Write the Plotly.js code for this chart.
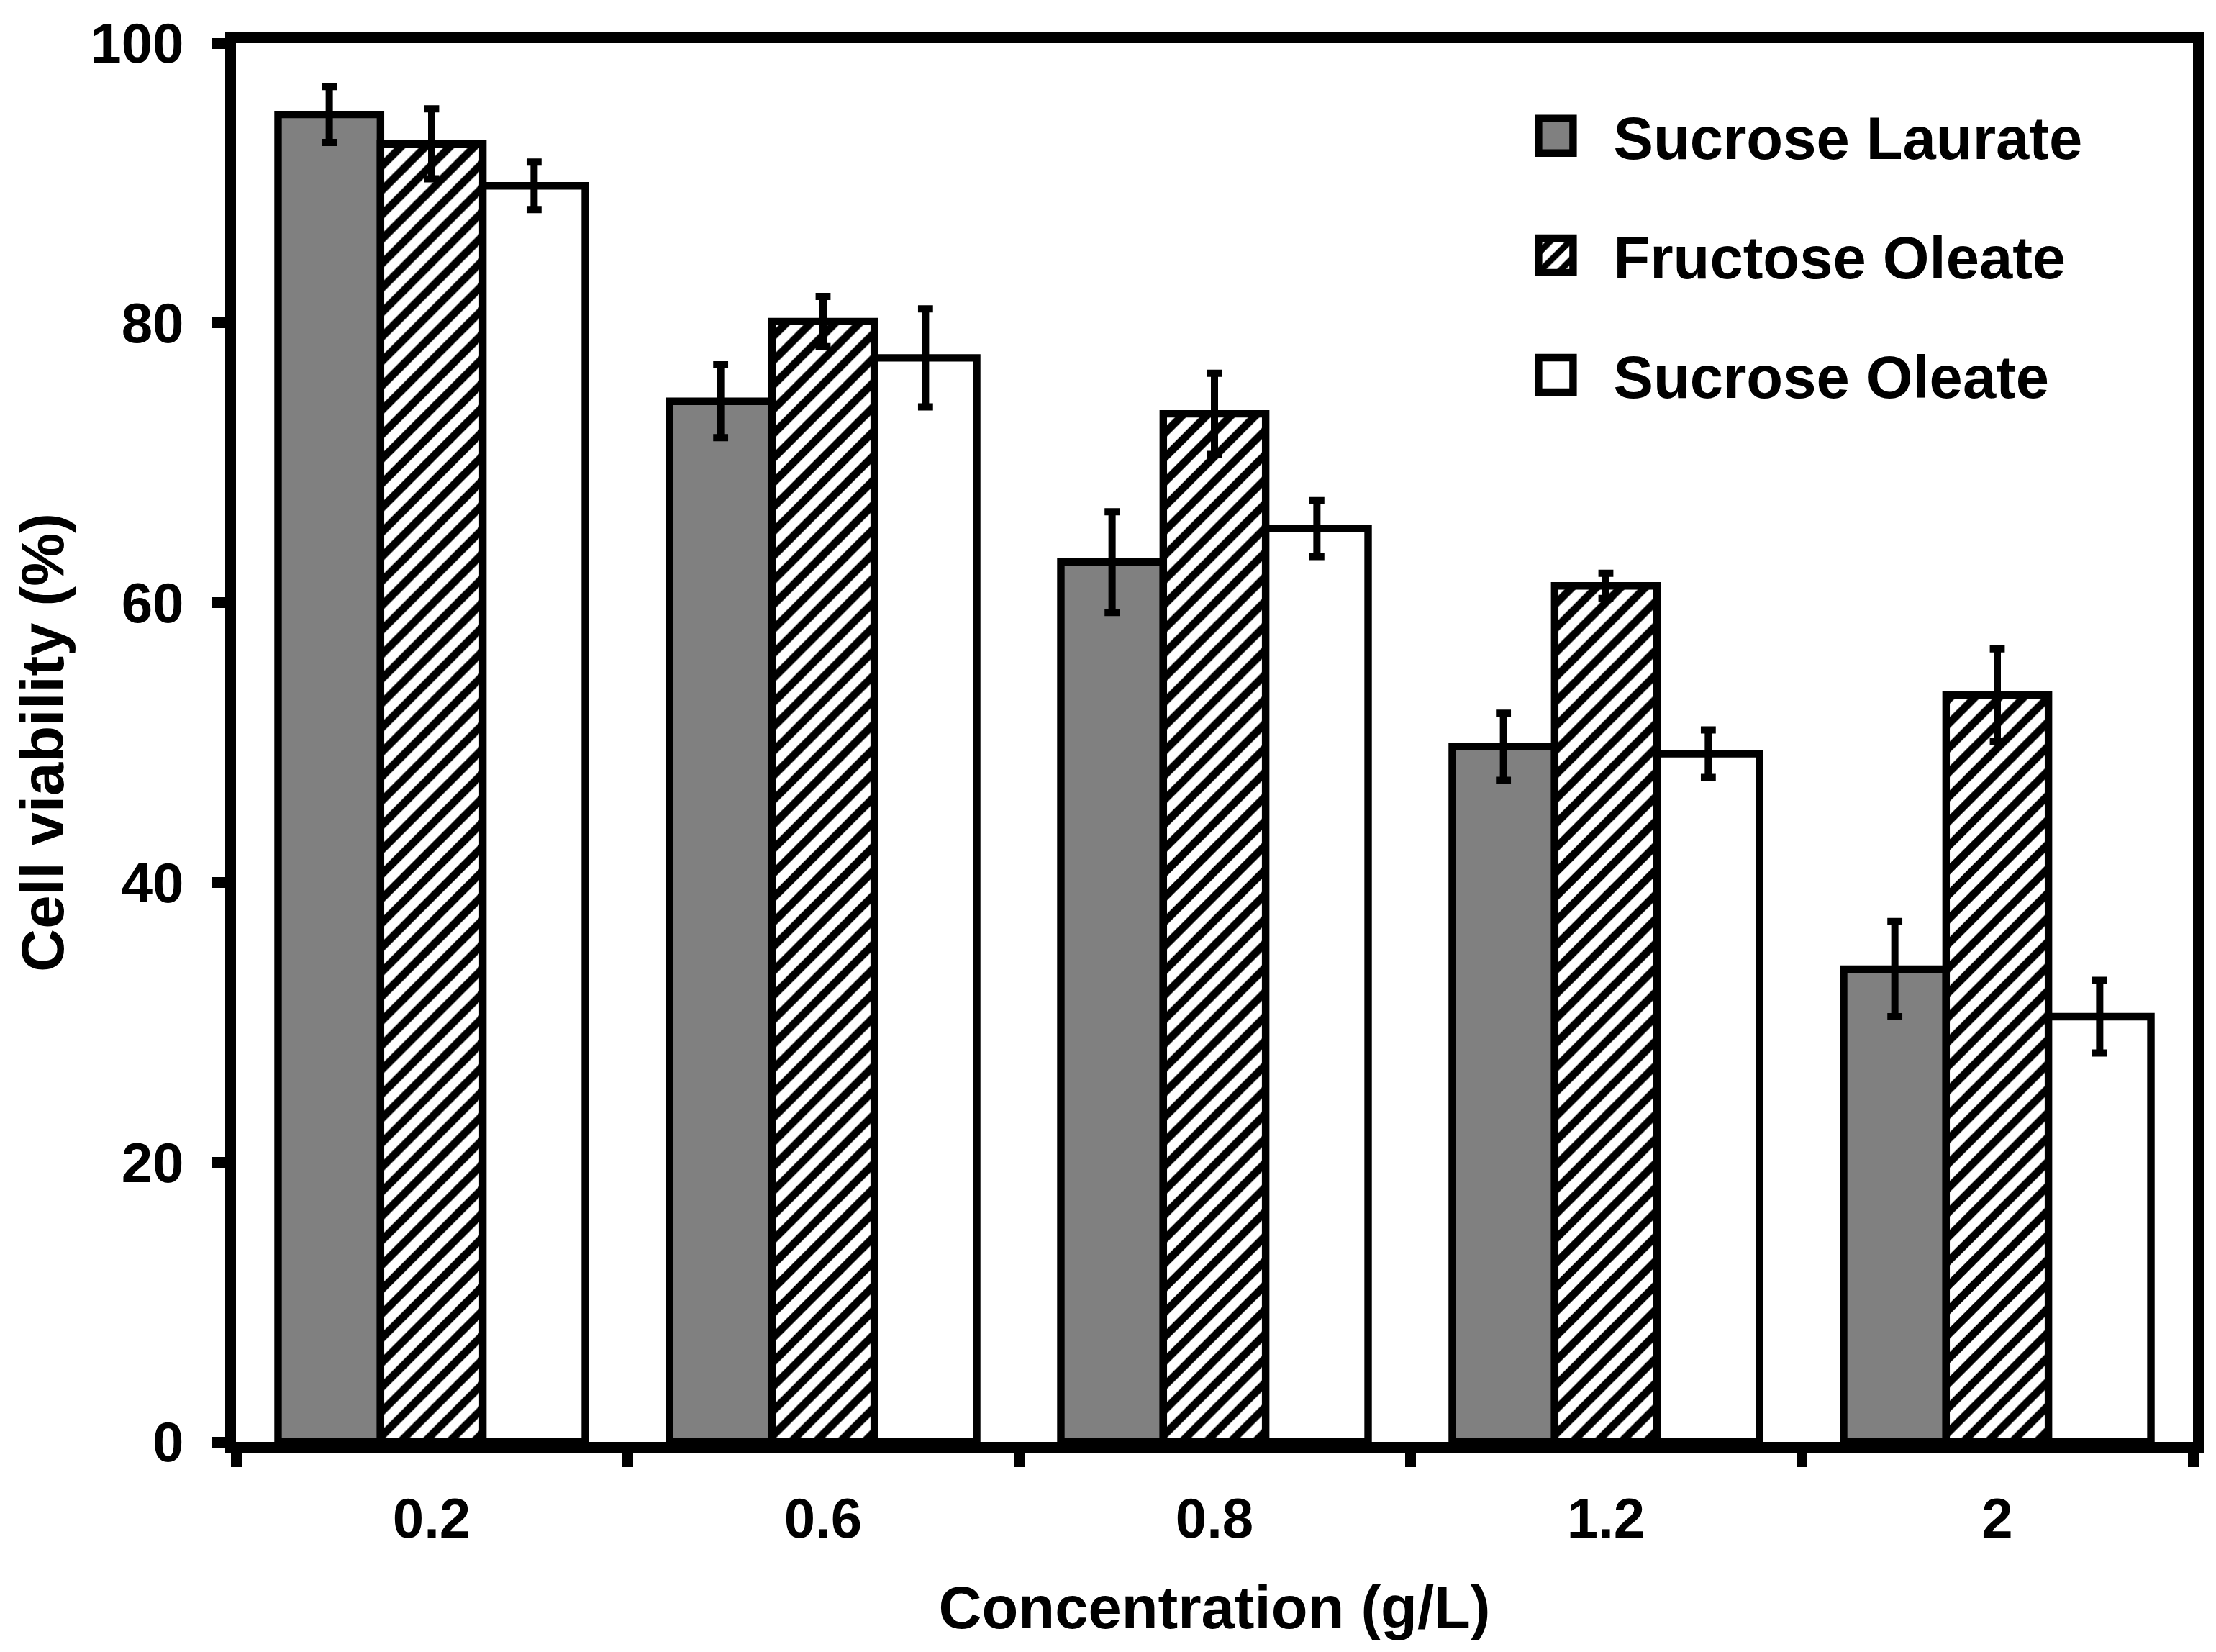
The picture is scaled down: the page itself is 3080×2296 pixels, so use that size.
<!DOCTYPE html>
<html>
<head>
<meta charset="utf-8">
<script src="https://cdn.plot.ly/plotly-3.0.1.min.js"></script>
<style>
  html, body { margin: 0; padding: 0; background: #fff; }
  #frame { width: 3080px; height: 2296px; overflow: hidden; position: relative; }
  #myPlot { width: 770px; height: 574px; transform: scale(4); transform-origin: 0 0; position: absolute; left: 0; top: 0; }
</style>
</head>
<body>
<div id="frame"><div id="myPlot"></div></div>
<script>
// concentrations (g/L) on the x axis
const concentrations = ['0.2', '0.6', '0.8', '1.2', '2'];

// cell viability (%), with error bar half-lengths
const sucroseLaurate = [94.9, 74.4, 62.9, 49.7, 33.8];
const sucroseLaurateErr = [2.0, 2.6, 3.6, 2.4, 3.4];

const fructoseOleate = [92.8, 80.1, 73.5, 61.2, 53.4];
const fructoseOleateErr = [2.5, 1.8, 2.9, 0.9, 3.3];

const sucroseOleate = [89.8, 77.5, 65.3, 49.2, 30.4];
const sucroseOleateErr = [1.7, 3.5, 2.0, 1.7, 2.6];

const font = {family: '"Liberation Sans", Arial, sans-serif', size: 19.5, color: '#000', weight: 'bold'};
const bigFont = Object.assign({}, font, {size: 20.8});

function errBars(arr) {
  return {type: 'data', array: arr, visible: true, color: '#000', thickness: 2.5, width: 2.6};
}

// Define Data
const data = [
  {
    type: 'bar', name: 'Sucrose Laurate', legendgroup: 'a',
    x: concentrations, y: sucroseLaurate, error_y: errBars(sucroseLaurateErr),
    marker: {color: '#808080', line: {color: '#000', width: 2.6}}
  },
  {
    type: 'bar', name: 'Fructose Oleate', legendgroup: 'b',
    x: concentrations, y: fructoseOleate, error_y: errBars(fructoseOleateErr),
    marker: {
      color: '#fff', line: {color: '#000', width: 2.6},
      pattern: {shape: '/', fgcolor: '#000', bgcolor: '#fff', size: 6, solidity: 0.45, fillmode: 'replace'}
    }
  },
  {
    type: 'bar', name: 'Sucrose Oleate', legendgroup: 'c',
    x: concentrations, y: sucroseOleate, error_y: errBars(sucroseOleateErr),
    marker: {color: '#fff', line: {color: '#000', width: 2.6}}
  }
];

// Define Layout
const layout = {
  width: 770, height: 574,
  margin: {l: 82.25, r: 8, t: 14.75, b: 73.25},
  paper_bgcolor: '#fff', plot_bgcolor: '#fff',
  font: font,
  barmode: 'group', bargap: 0.215, bargroupgap: 0,
  showlegend: true,
  legend: {
    x: 0.645, xanchor: 'left', y: 0.975, yanchor: 'top',
    bgcolor: 'rgba(0,0,0,0)', font: bigFont,
    traceorder: 'grouped', tracegroupgap: 11.5
  },
  xaxis: {
    type: 'category',
    showline: true, linecolor: '#000', linewidth: 3.75, mirror: true,
    ticks: 'outside', tickson: 'boundaries', ticklen: 5, tickwidth: 3.75, tickcolor: '#000',
    ticklabelstandoff: 6,
    showgrid: false, zeroline: false,
    title: {text: 'Concentration (g/L)', font: bigFont, standoff: 15}
  },
  yaxis: {
    range: [0, 100], dtick: 20,
    showline: true, linecolor: '#000', linewidth: 3.75, mirror: true,
    ticks: 'outside', ticklen: 4.5, tickwidth: 3.75, tickcolor: '#000',
    ticklabelstandoff: 6,
    showgrid: false, zeroline: false,
    title: {text: 'Cell viability (%)', font: bigFont, standoff: 4}
  }
};

// Display Plot
Plotly.newPlot('myPlot', data, layout, {staticPlot: true, displayModeBar: false});
</script>
</body>
</html>
